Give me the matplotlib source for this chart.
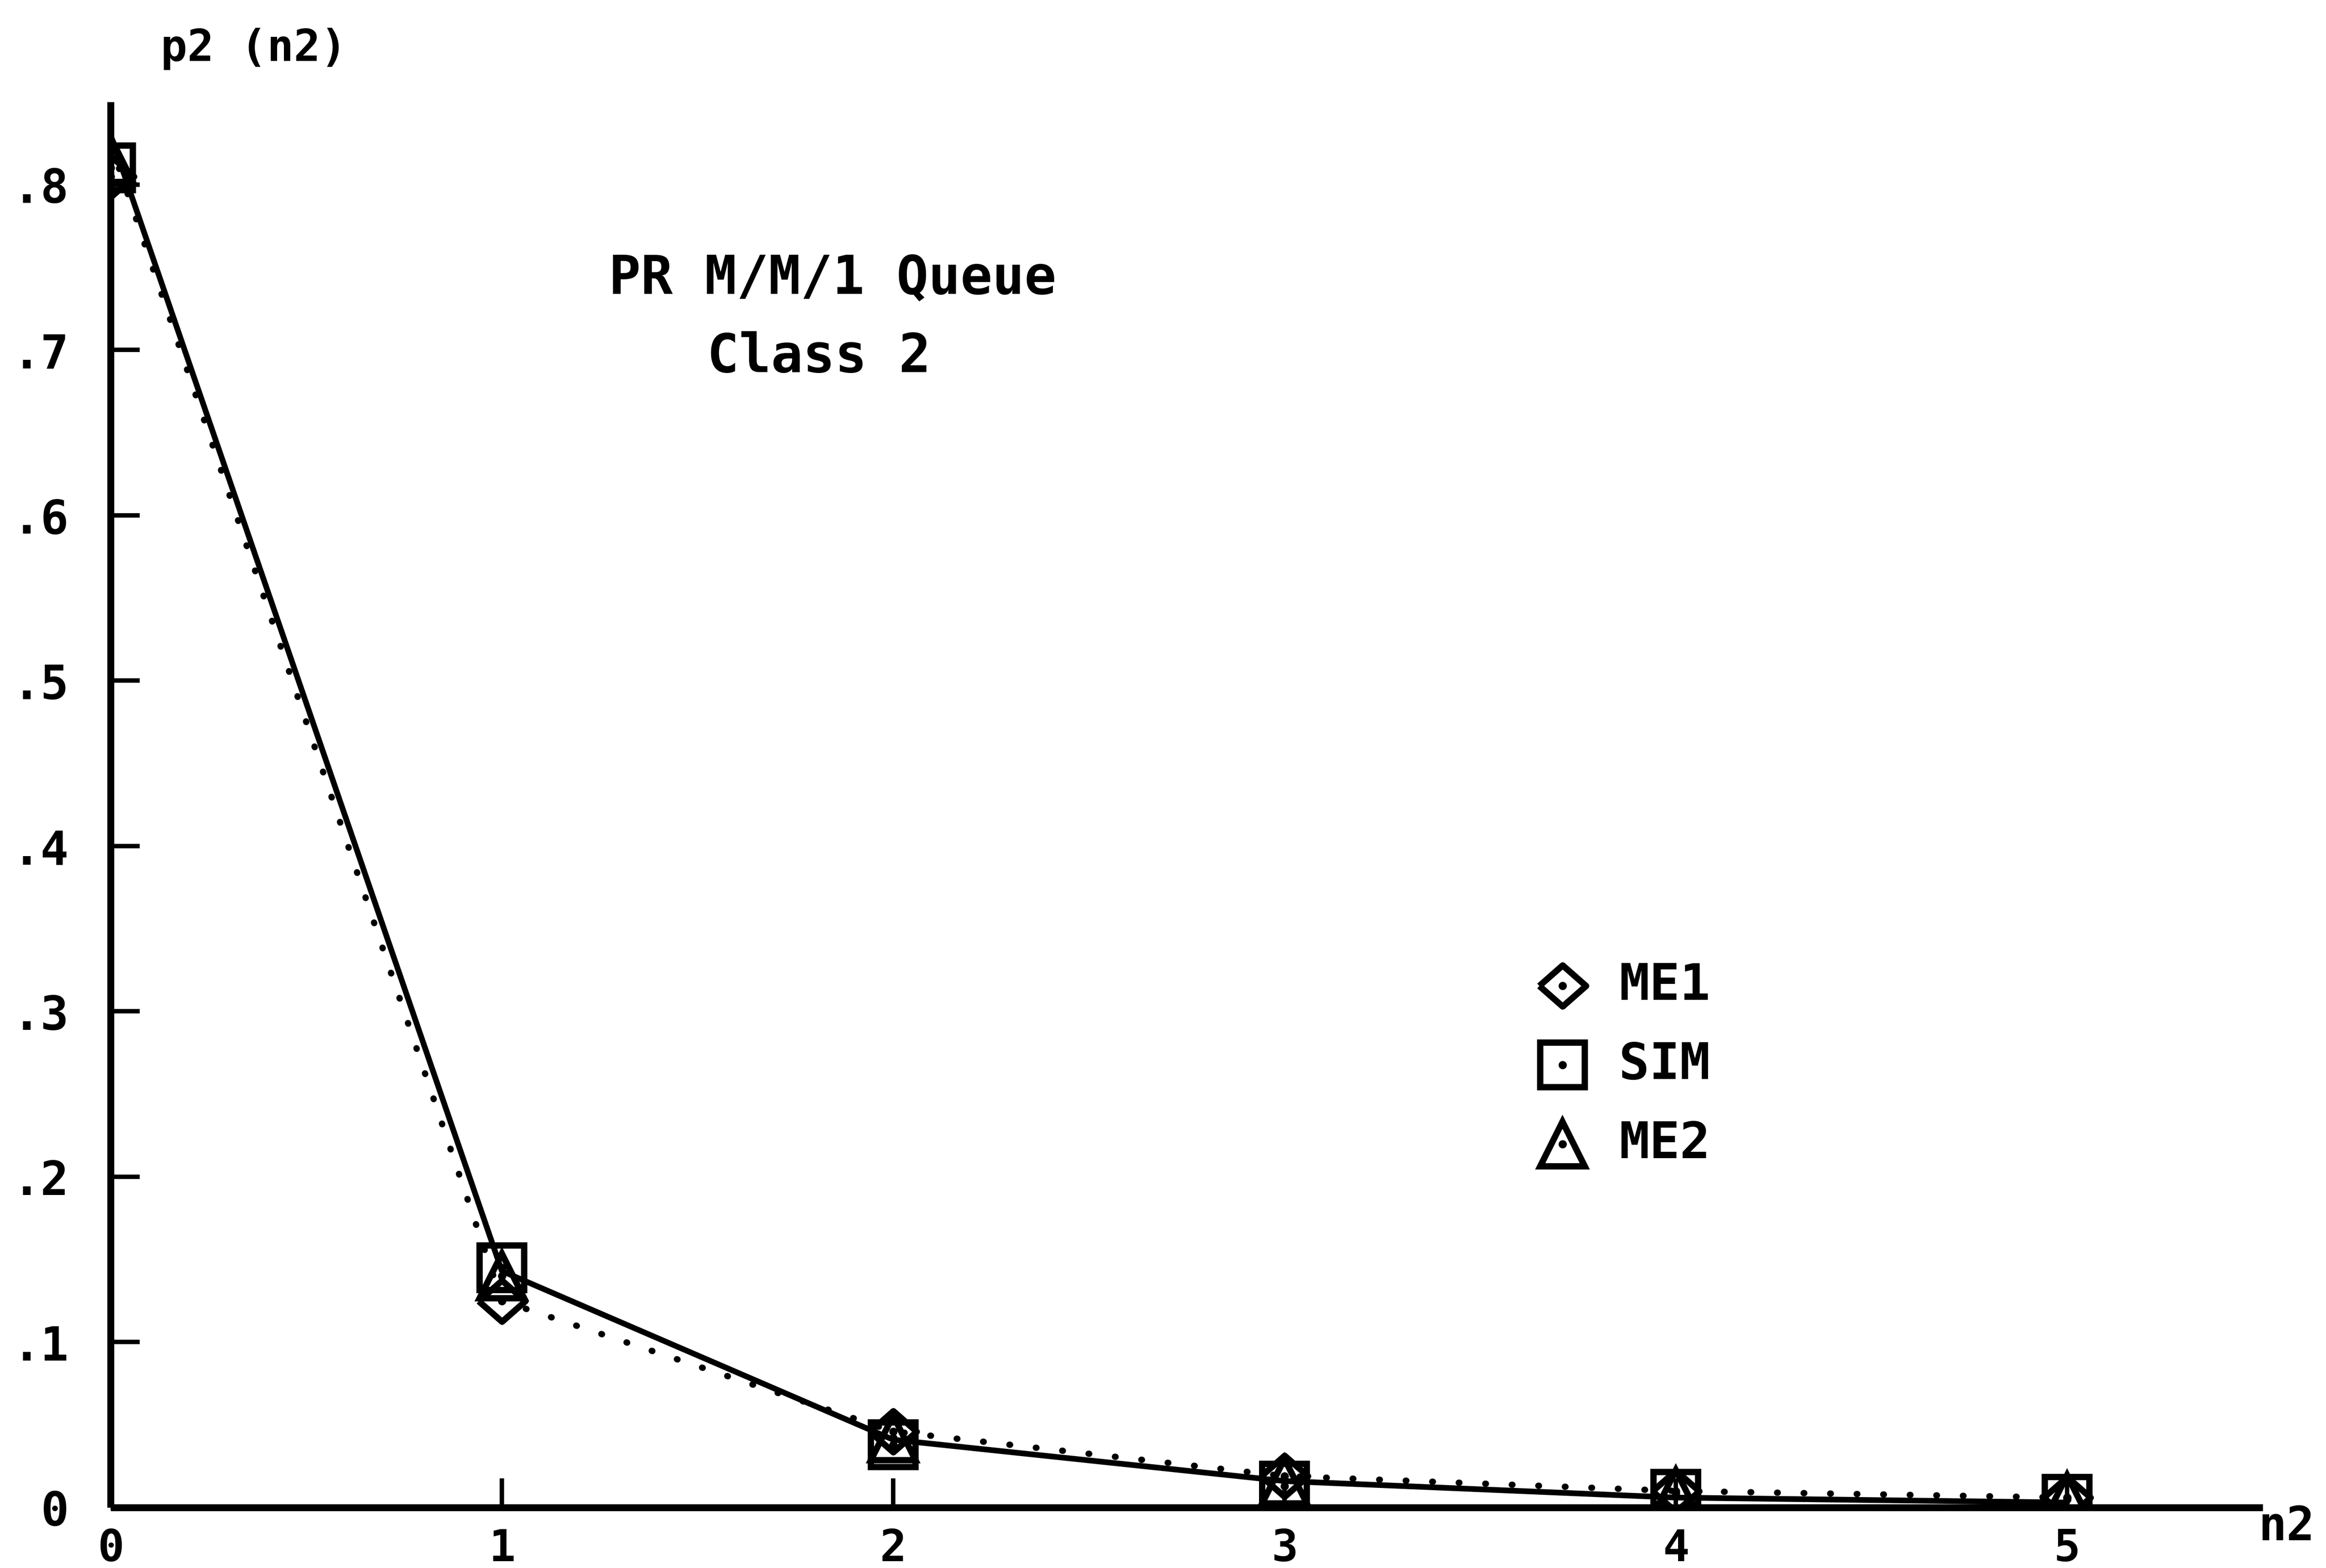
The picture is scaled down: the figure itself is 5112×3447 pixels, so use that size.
import matplotlib
matplotlib.use("Agg")
import matplotlib.pyplot as plt
from matplotlib.lines import Line2D

# ---------------- data ----------------
n2 = [0, 1, 2, 3, 4, 5]
me1 = [0.805, 0.125, 0.046, 0.019, 0.010, 0.006]
sim = [0.810, 0.145, 0.038, 0.013, 0.008, 0.005]
me2 = [0.815, 0.140, 0.042, 0.016, 0.009, 0.006]
solid_curve = [0.830, 0.143, 0.041, 0.016, 0.006, 0.003]
dotted_curve = [0.825, 0.125, 0.046, 0.019, 0.010, 0.006]

xticks = [0, 1, 2, 3, 4, 5]
xtick_labels = ["0", "1", "2", "3", "4", "5"]
yticks = [0.0, 0.1, 0.2, 0.3, 0.4, 0.5, 0.6, 0.7, 0.8]
ytick_labels = ["0", ".1", ".2", ".3", ".4", ".5", ".6", ".7", ".8"]
legend_labels = ["ME1", "SIM", "ME2"]
title_lines = ["PR M/M/1 Queue", "Class 2"]
ylabel = "p2 (n2)"
xlabel = "n2"

# ---------------- style ----------------
FONT = ["DejaVu Sans Mono", "DejaVu Sans"]
plt.rcParams["font.family"] = FONT
plt.rcParams["font.weight"] = "bold"

W, H = 5112, 3448
fig = plt.figure(figsize=(W / 100, H / 100), dpi=100)
fig.patch.set_facecolor("white")

x0, x1 = 243, 4973      # pixel x for n2=0 and n2=5.5
y0, y1 = 3315, 225      # pixel y for p=0 and p=0.85
ax = fig.add_axes([x0 / W, 1 - y0 / H, (x1 - x0) / W, (y0 - y1) / H])
ax.set_xlim(0, 5.5)
ax.set_ylim(0, 0.85)
ax.set_facecolor("white")

for s in ["top", "right"]:
    ax.spines[s].set_visible(False)
for s in ["left", "bottom"]:
    ax.spines[s].set_linewidth(11)
    ax.spines[s].set_color("black")
    ax.spines[s].set_capstyle("butt")

ax.set_xticks(xticks)
ax.set_xticklabels(xtick_labels)
ax.set_yticks(yticks)
ax.set_yticklabels(ytick_labels)
ax.tick_params(axis="both", direction="in", length=46, width=7, colors="black",
               labelsize=74)
ax.tick_params(axis="y", pad=66)
ax.tick_params(axis="x", pad=32, labelsize=70)
for lab in ax.get_xticklabels() + ax.get_yticklabels():
    lab.set_fontweight("bold")

# curves
ax.plot(n2, solid_curve, color="black", lw=9, solid_capstyle="round",
        solid_joinstyle="round", zorder=3)
ax.plot(n2, dotted_curve, color="black", lw=10, linestyle=(0, (0.1, 4.1)),
        dash_capstyle="round", zorder=3)

diamond = [(-1, 0), (0, 0.88), (1, 0), (0, -0.88), (-1, 0)]
mstyle = dict(linestyle="none", markerfacecolor="none", markeredgecolor="black",
              markeredgewidth=10, zorder=4)
ax.plot(n2, me1, marker=diamond, markersize=74, **mstyle)
ax.plot(n2, sim, marker="s", markersize=70, **mstyle)
ax.plot(n2, me2, marker="^", markersize=70, **mstyle)
for ser in (me1, sim, me2):
    ax.plot(n2, ser, marker="o", markersize=12, linestyle="none", color="black", zorder=5)

# legend (drawn in figure pixel coordinates)
leg_markers = [diamond, "s", "^"]
leg_sizes = [74, 70, 70]
leg_y = [2168, 2342, 2516]
for lab, mk, ms, yy in zip(legend_labels, leg_markers, leg_sizes, leg_y):
    fig.add_artist(Line2D([3434 / W], [1 - yy / H], marker=mk, markersize=ms,
                          transform=fig.transFigure, **mstyle))
    fig.add_artist(Line2D([3434 / W], [1 - yy / H], marker="o", markersize=12,
                          linestyle="none", color="black", transform=fig.transFigure))
    fig.text(3558 / W, 1 - yy / H, lab, fontsize=80, fontweight="bold",
             ha="left", va="center")

# titles and axis labels
fig.text(1830 / W, 1 - 612 / H, title_lines[0], fontsize=84, fontweight="bold",
         ha="center", va="center")
fig.text(1800 / W, 1 - 785 / H, title_lines[1], fontsize=84, fontweight="bold",
         ha="center", va="center")
fig.text(558 / W, 1 - 108 / H, ylabel, fontsize=70, fontweight="bold",
         ha="center", va="center")
fig.text(5025 / W, 1 - 3357 / H, xlabel, fontsize=74, fontweight="bold",
         ha="center", va="center")

fig.savefig("out.png", dpi=100, facecolor="white")
